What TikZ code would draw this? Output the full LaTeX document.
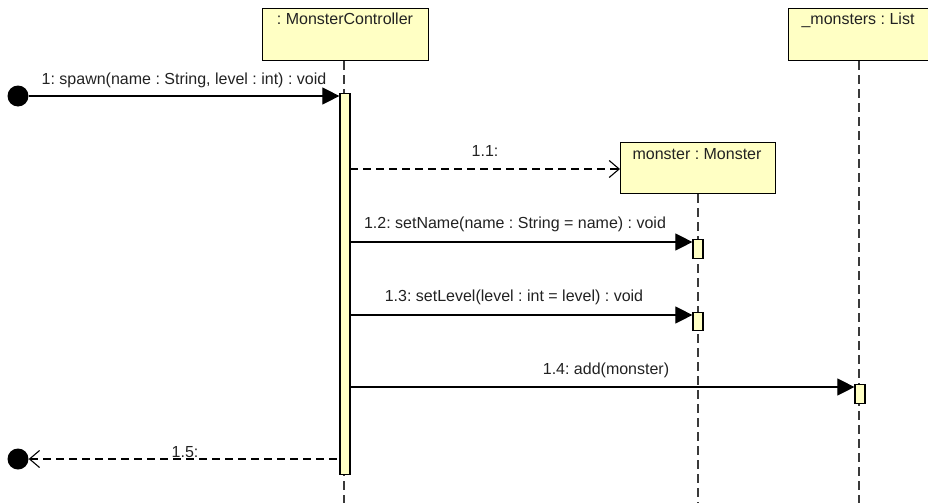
\documentclass[tikz,border=0pt]{standalone}
\usepackage{fontspec}
\setmainfont{Liberation Sans}
\usetikzlibrary{arrows.meta}
\definecolor{umlfill}{HTML}{FFFFC4}
\definecolor{lifegray}{HTML}{3A3A3A}
\definecolor{labelgray}{HTML}{222222}
\begin{document}
\frenchspacing
\begin{tikzpicture}[x=1pt,y=-1pt,
  font=\fontsize{16}{18}\selectfont,
  objbox/.style={draw=black, line width=1.2pt, fill=umlfill, rectangle, inner sep=0pt},
  actbar/.style={draw=black, line width=1.2pt, fill=umlfill, rectangle, inner sep=0pt, minimum width=10pt},
  lifeline/.style={draw=lifegray, line width=1.4pt, dash pattern=on 9pt off 5pt},
  syncmsg/.style={draw=black, line width=1.1pt, -{Triangle[length=17pt,width=17pt]}},
  createmsg/.style={draw=black, line width=1.1pt, dash pattern=on 8pt off 5pt, -{Straight Barb[length=10pt,width=17pt,line width=1.1pt]}},
  retmsg/.style={draw=black, line width=1.1pt, dash pattern=on 8pt off 5pt, {Straight Barb[length=10pt,width=17pt,line width=1.1pt]}-},
  endpoint/.style={circle, fill=black, inner sep=0pt, minimum size=21pt},
  msglabel/.style={inner sep=0pt, anchor=base, text=labelgray}
]
\useasboundingbox (0,0) rectangle (928,503);

% object boxes with their titles
\node[objbox, minimum width=166pt, minimum height=52pt, anchor=north west] (ctrl) at (262,8) {};
\node[msglabel] (ctrlname) at (345,25) {: MonsterController};
\node[objbox, minimum width=140pt, minimum height=52pt, anchor=north west] (list) at (788,8) {};
\node[msglabel] (listname) at (858,25) {\_monsters : List};
\node[objbox, minimum width=155pt, minimum height=51pt, anchor=north west] (mon) at (620,142) {};
\node[msglabel] (monname) at (697,159) {monster : Monster};

% lifeline ends
\coordinate (ctrlend) at (344,503);
\coordinate (listend) at (859,503);
\coordinate (monend) at (698,503);

\draw[lifeline] (ctrl.south -| ctrlend) -- (ctrlend);
\draw[lifeline] (list.south -| listend) -- (listend);
\draw[lifeline] (mon.south -| monend) -- (monend);

% activation bars
\node[actbar, minimum height=381pt, anchor=north] (actc) at (345,93) {};
\node[actbar, minimum height=19pt, anchor=north] (actm1) at (698,239) {};
\node[actbar, minimum height=18pt, anchor=north] (actm2) at (698,312) {};
\node[actbar, minimum height=19pt, anchor=north] (actl) at (860,384) {};

% found / lost message endpoints
\node[endpoint] (start) at (18,96) {};
\node[endpoint] (finish) at (18,459) {};

% messages
\draw[syncmsg] (start) -- (start -| actc.west);
\node[msglabel] (l1) at (184,84) {1: spawn(name : String, level : int) : void};

\coordinate (m11) at (350,169);
\draw[createmsg] (m11) -- (m11 -| mon.west);
\node[msglabel] (l11) at (485,156) {1.1:};

\coordinate (m12) at (350,242);
\draw[syncmsg] (m12) -- (m12 -| actm1.west);
\node[msglabel] (l12) at (515,228) {1.2: setName(name : String = name) : void};

\coordinate (m13) at (350,315);
\draw[syncmsg] (m13) -- (m13 -| actm2.west);
\node[msglabel] (l13) at (514,301) {1.3: setLevel(level : int = level) : void};

\coordinate (m14) at (350,387);
\draw[syncmsg] (m14) -- (m14 -| actl.west);
\node[msglabel] (l14) at (606,374) {1.4: add(monster)};

\draw[retmsg] (finish) -- (finish -| actc.west);
\node[msglabel] (l15) at (185,457) {1.5:};
\end{tikzpicture}
\end{document}
